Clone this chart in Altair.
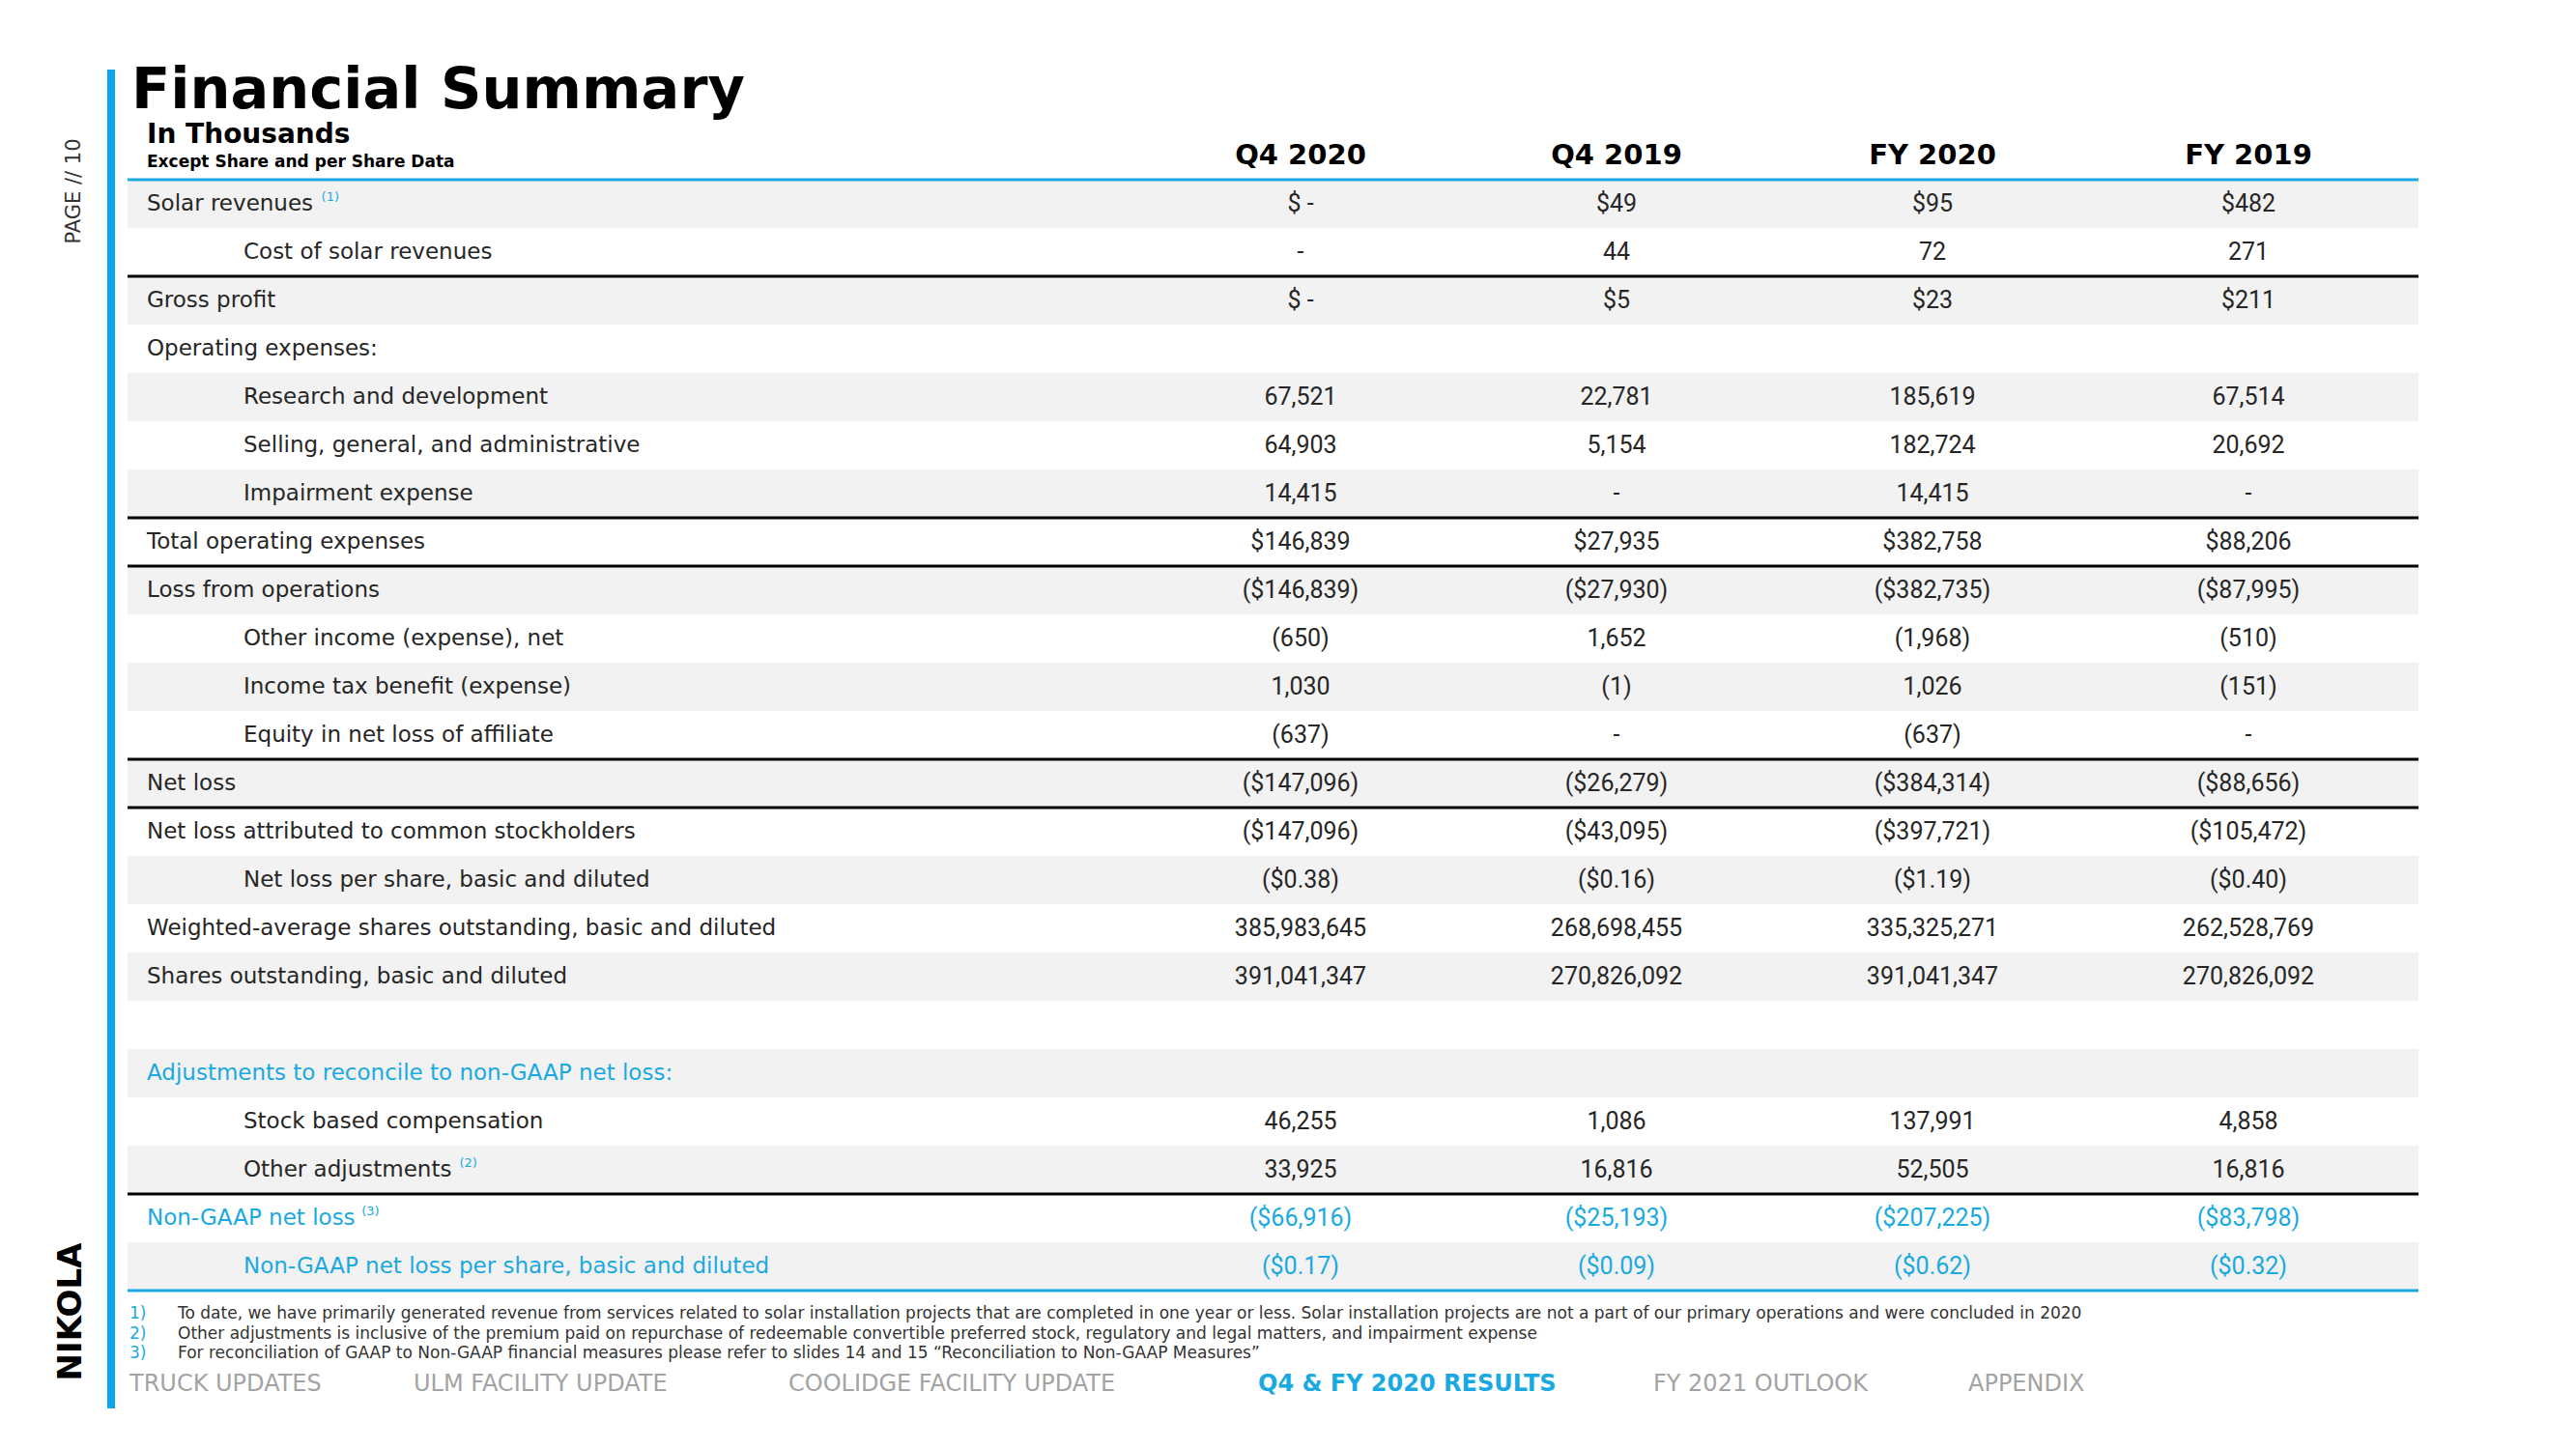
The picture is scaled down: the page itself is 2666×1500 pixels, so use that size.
import altair as alt
import pandas as pd

# ---------------- data ----------------
TITLE = "Financial Summary"
SUB1 = "In Thousands"
SUB2 = "Except Share and per Share Data"
PAGE = "PAGE // 10"
LOGO = "NIKOLA"

COLS = ["Q4 2020", "Q4 2019", "FY 2020", "FY 2019"]

LABELS = [
    "Solar revenues",
    "Cost of solar revenues",
    "Gross profit",
    "Operating expenses:",
    "Research and development",
    "Selling, general, and administrative",
    "Impairment expense",
    "Total operating expenses",
    "Loss from operations",
    "Other income (expense), net",
    "Income tax benefit (expense)",
    "Equity in net loss of affiliate",
    "Net loss",
    "Net loss attributed to common stockholders",
    "Net loss per share, basic and diluted",
    "Weighted-average shares outstanding, basic and diluted",
    "Shares outstanding, basic and diluted",
    "",
    "Adjustments to reconcile to non-GAAP net loss:",
    "Stock based compensation",
    "Other adjustments",
    "Non-GAAP net loss",
    "Non-GAAP net loss per share, basic and diluted",
]
INDENT = [0, 1, 0, 0, 1, 1, 1, 0, 0, 1, 1, 1, 0, 0, 1, 0, 0, 0, 0, 1, 1, 0, 1]
KIND = ["std"] * 18 + ["ngaap", "std", "std", "ngaap", "ngaap"]
NOTE_ROWS = [0, 20, 21]
NOTE_TEXT = ["(1)", "(2)", "(3)"]

Q4_2020 = ["$ -", "-", "$ -", "", "67,521", "64,903", "14,415", "$146,839", "($146,839)",
           "(650)", "1,030", "(637)", "($147,096)", "($147,096)", "($0.38)",
           "385,983,645", "391,041,347", "", "", "46,255", "33,925", "($66,916)", "($0.17)"]
Q4_2019 = ["$49", "44", "$5", "", "22,781", "5,154", "-", "$27,935", "($27,930)",
           "1,652", "(1)", "-", "($26,279)", "($43,095)", "($0.16)",
           "268,698,455", "270,826,092", "", "", "1,086", "16,816", "($25,193)", "($0.09)"]
FY_2020 = ["$95", "72", "$23", "", "185,619", "182,724", "14,415", "$382,758", "($382,735)",
           "(1,968)", "1,026", "(637)", "($384,314)", "($397,721)", "($1.19)",
           "335,325,271", "391,041,347", "", "", "137,991", "52,505", "($207,225)", "($0.62)"]
FY_2019 = ["$482", "271", "$211", "", "67,514", "20,692", "-", "$88,206", "($87,995)",
           "(510)", "(151)", "-", "($88,656)", "($105,472)", "($0.40)",
           "262,528,769", "270,826,092", "", "", "4,858", "16,816", "($83,798)", "($0.32)"]

BLACK_LINES = [2, 7, 8, 12, 13, 21]
BLUE_LINES = [0, 23]

FOOT_MARKS = ["1)", "2)", "3)"]
FOOTNOTES = [
    "To date, we have primarily generated revenue from services related to solar installation projects that are completed in one year or less. Solar installation projects are not a part of our primary operations and were concluded in 2020",
    "Other adjustments is inclusive of the premium paid on repurchase of redeemable convertible preferred stock, regulatory and legal matters, and impairment expense",
    "For reconciliation of GAAP to Non-GAAP financial measures please refer to slides 14 and 15 \u201cReconciliation to Non-GAAP Measures\u201d",
]

NAV = ["TRUCK UPDATES", "ULM FACILITY UPDATE", "COOLIDGE FACILITY UPDATE",
       "Q4 & FY 2020 RESULTS", "FY 2021 OUTLOOK", "APPENDIX"]
NAV_ACTIVE = "Q4 & FY 2020 RESULTS"

# ---------------- layout / style ----------------
NAV_X = [126, 420, 808, 1294, 1703, 2029]
BLUE = "#1ba9e1"
BAR_BLUE = "#0ea5ef"
DARK = "#262626"
GRAY_BG = "#f2f2f2"
NAV_GRAY = "#a3a3a3"
LABEL_FONT = "DejaVu Sans"
VALUE_FONT = "Roboto"
LABEL_SIZE = 23
TL, TR = 124, 2495
INDENT_X = [144, 244]
NROWS = len(LABELS)

# approximate DejaVu Sans advance widths (units of 1/2048 em) for placing the note markers
_W = {" ": 651, "a": 1255, "b": 1300, "c": 1126, "d": 1300, "e": 1260, "f": 721, "g": 1300,
      "h": 1298, "i": 569, "j": 569, "k": 1186, "l": 569, "m": 1995, "n": 1298, "o": 1253,
      "p": 1300, "q": 1300, "r": 842, "s": 1067, "t": 803, "u": 1298, "v": 1212, "w": 1675,
      "x": 1212, "y": 1212, "z": 1075, "S": 1300, "O": 1612, "N": 1532, "G": 1595, "A": 1401,
      "P": 1235, "-": 739}


def text_width(s, size):
    return sum(_W.get(ch, 1250) for ch in s) / 2048.0 * size


yscale = alt.Scale(domain=[0, NROWS], range=[178, 1328])
xcol = alt.Scale(type="point", domain=COLS, range=[1338, 2319], padding=0)
xind = alt.Scale(domain=[0, 1], range=INDENT_X)

rows = pd.DataFrame({"row": list(range(NROWS)), "label": LABELS, "indent": INDENT, "kind": KIND})
vals = pd.DataFrame([
    {"row": r, "col": c, "text": v, "kind": KIND[r]}
    for c, series in zip(COLS, [Q4_2020, Q4_2019, FY_2020, FY_2019])
    for r, v in enumerate(series) if v != ""
])
notes = pd.DataFrame({
    "row": NOTE_ROWS,
    "note": NOTE_TEXT,
    "nx": [INDENT_X[INDENT[r]] + text_width(LABELS[r], LABEL_SIZE) + 8 for r in NOTE_ROWS],
})
color_kind = alt.Color("kind:N", scale=alt.Scale(domain=["std", "ngaap"], range=[DARK, BLUE]), legend=None)

bg = alt.Chart(rows).transform_filter("datum.row % 2 == 0").transform_calculate(
    bottom="datum.row + 1"
).mark_rect(color=GRAY_BG).encode(
    y=alt.Y("row:Q", scale=yscale, axis=None), y2="bottom:Q",
    x=alt.value(TL), x2=alt.value(TR),
)

black_rules = alt.Chart(pd.DataFrame({"b": BLACK_LINES})).mark_rule(color="#000000", strokeWidth=3).encode(
    y=alt.Y("b:Q", scale=yscale, axis=None), x=alt.value(TL), x2=alt.value(TR)
)
blue_rules = alt.Chart(pd.DataFrame({"b": BLUE_LINES})).mark_rule(color=BLUE, strokeWidth=3).encode(
    y=alt.Y("b:Q", scale=yscale, axis=None), x=alt.value(TL), x2=alt.value(TR)
)

note_layer = alt.Chart(notes).transform_calculate(mid="datum.row + 0.5").mark_text(
    align="left", baseline="middle", font=LABEL_FONT, fontSize=13, color=BLUE, dy=-7
).encode(
    x=alt.X("nx:Q", scale=None, axis=None),
    y=alt.Y("mid:Q", scale=yscale, axis=None),
    text="note:N",
)

label_layer = alt.Chart(rows).transform_filter("datum.label != ''").transform_calculate(
    mid="datum.row + 0.5"
).mark_text(align="left", baseline="middle", font=LABEL_FONT, fontSize=LABEL_SIZE).encode(
    x=alt.X("indent:Q", scale=xind, axis=None),
    y=alt.Y("mid:Q", scale=yscale, axis=None),
    text="label:N",
    color=color_kind,
)

value_layer = alt.Chart(vals).transform_calculate(mid="datum.row + 0.5").mark_text(
    align="center", baseline="middle", font=VALUE_FONT, fontSize=25
).encode(
    x=alt.X("col:N", scale=xcol, axis=None),
    y=alt.Y("mid:Q", scale=yscale, axis=None),
    text="text:N",
    color=color_kind,
)

header_layer = alt.Chart(pd.DataFrame({"col": COLS})).mark_text(
    align="center", baseline="alphabetic", font=LABEL_FONT, fontSize=29, fontWeight="bold", color="#000000"
).encode(x=alt.X("col:N", scale=xcol, axis=None), y=alt.value(162), text="col:N")


def single(text, x, y, **kw):
    return alt.Chart(pd.DataFrame({"t": [text]})).mark_text(**kw).encode(
        text="t:N", x=alt.value(x), y=alt.value(y)
    )


title = single(TITLE, 128, 104, align="left", baseline="alphabetic", font=LABEL_FONT,
               fontSize=59, fontWeight="bold", color="#000000")
sub1 = single(SUB1, 144, 140, align="left", baseline="alphabetic", font=LABEL_FONT,
              fontSize=28, fontWeight="bold", color="#000000")
sub2 = single(SUB2, 144, 165, align="left", baseline="alphabetic", font=LABEL_FONT,
              fontSize=17, fontWeight="bold", color="#000000")
page = single(PAGE, 69, 190, align="center", baseline="middle", font=LABEL_FONT,
              fontSize=21, angle=270, color="#333333")
logo = single(LOGO, 66, 1350, align="center", baseline="middle", font=LABEL_FONT,
              fontSize=34, fontWeight="bold", angle=270, color="#000000")

left_bar = alt.Chart(pd.DataFrame({"a": [0]})).mark_rule(color=BAR_BLUE, strokeWidth=8).encode(
    x=alt.value(107), y=alt.value(64), y2=alt.value(1450)
)

foot = pd.DataFrame({"i": [0, 1, 2], "mark": FOOT_MARKS, "text": FOOTNOTES})
fscale = alt.Scale(domain=[0, 2], range=[1352, 1393])
foot_marks = alt.Chart(foot).mark_text(align="left", baseline="middle", font=LABEL_FONT,
                                       fontSize=17, color=BLUE).encode(
    x=alt.value(126), y=alt.Y("i:Q", scale=fscale, axis=None), text="mark:N"
)
foot_text = alt.Chart(foot).mark_text(align="left", baseline="middle", font=LABEL_FONT,
                                      fontSize=17, color="#333333").encode(
    x=alt.value(176), y=alt.Y("i:Q", scale=fscale, axis=None), text="text:N"
)

navdf = pd.DataFrame({"t": NAV, "x": NAV_X, "active": [n == NAV_ACTIVE for n in NAV]})
nav_plain = alt.Chart(navdf).transform_filter("!datum.active").mark_text(
    align="left", baseline="middle", font=LABEL_FONT, fontSize=24, color=NAV_GRAY
).encode(x=alt.X("x:Q", scale=None, axis=None), y=alt.value(1425), text="t:N")
nav_active = alt.Chart(navdf).transform_filter("datum.active").mark_text(
    align="left", baseline="middle", font=LABEL_FONT, fontSize=24, fontWeight="bold", color=BLUE
).encode(x=alt.X("x:Q", scale=None, axis=None), y=alt.value(1425), text="t:N")

chart = alt.layer(
    bg, black_rules, blue_rules, label_layer, note_layer, value_layer, header_layer,
    title, sub1, sub2, page, logo, left_bar, foot_marks, foot_text, nav_plain, nav_active,
).resolve_scale(x="independent", y="independent", color="independent").properties(
    width=2650, height=1484, autosize=alt.AutoSizeParams(type="none"), padding=0,
    background="#ffffff",
).configure_view(stroke=None)

chart.save("out.html", embed_options={"renderer": "svg", "actions": False})
